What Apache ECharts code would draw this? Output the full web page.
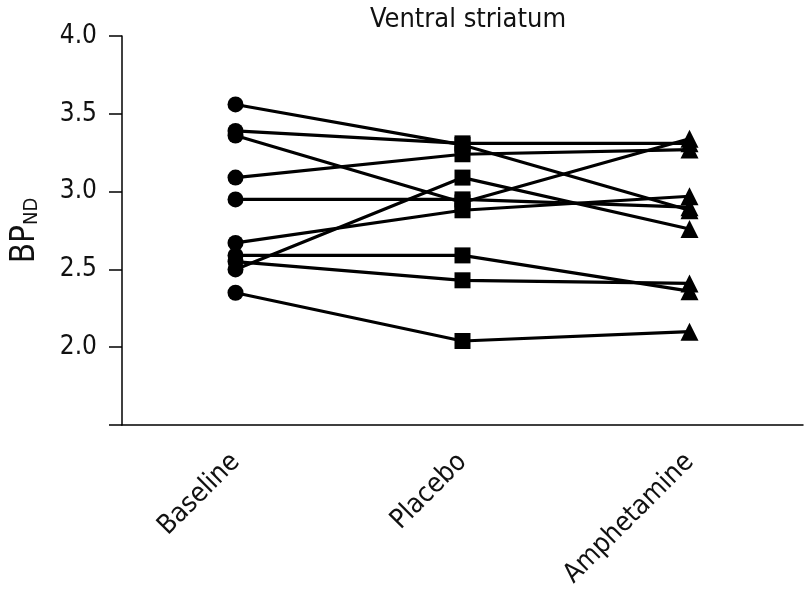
<!DOCTYPE html>
<html><head><meta charset="utf-8">
<script src="https://cdn.jsdelivr.net/npm/echarts@6/dist/echarts.min.js"></script>
<style>html,body{margin:0;padding:0;background:#fff}#c{width:807px;height:595px}</style>
</head><body><div id="c"></div>
<script>
const categories = ['Baseline', 'Placebo', 'Amphetamine'];
const yTicks = [1.5, 2.0, 2.5, 3.0, 3.5, 4.0];
const subject1 = [3.56, 3.30, 2.88];
const subject2 = [3.39, 3.31, 3.31];
const subject3 = [3.36, 2.93, 3.34];
const subject4 = [3.09, 3.24, 3.27];
const subject5 = [2.95, 2.95, 2.90];
const subject6 = [2.67, 2.88, 2.97];
const subject7 = [2.59, 2.59, 2.36];
const subject8 = [2.55, 2.43, 2.41];
const subject9 = [2.50, 3.09, 2.76];
const subject10 = [2.35, 2.04, 2.10];
const subjects = [subject1, subject2, subject3, subject4, subject5, subject6, subject7, subject8, subject9, subject10];

const FONT = "'Liberation Sans Narrow','DejaVu Sans Condensed',sans-serif";
const symbols = ['circle', 'rect', 'triangle'];
const sizes = [16, 16, 18];

const chart = echarts.init(document.getElementById('c'));
chart.setOption({
  animation: false,
  title: {
    text: 'Ventral striatum', left: 463, top: 1, textAlign: 'center',
    textStyle: {fontFamily: FONT, fontSize: 27, fontWeight: 'normal', color: '#111'}
  },
  grid: {left: 122, right: 4, top: 36, bottom: 170},
  xAxis: {
    type: 'category', data: categories, boundaryGap: true,
    axisLine: {lineStyle: {color: '#000', width: 1.5}},
    axisTick: {alignWithLabel: true, length: 12, lineStyle: {color: '#000', width: 1.5}},
    axisLabel: {rotate: 45, margin: 33, fontFamily: FONT, fontSize: 27, color: '#111'}
  },
  yAxis: {
    type: 'value', min: yTicks[0], max: yTicks[yTicks.length - 1], interval: 0.5,
    splitLine: {show: false},
    axisLine: {show: true, lineStyle: {color: '#000', width: 1.5}},
    axisTick: {show: true, length: 13, lineStyle: {color: '#000', width: 1.5}},
    axisLabel: {
      margin: 25, fontFamily: FONT, fontSize: 26, color: '#111',
      formatter: v => (v === yTicks[0] ? '' : v.toFixed(1))
    },
    name: '{a|BP}{b|ND}', nameLocation: 'middle', nameRotate: 90, nameGap: 80,
    nameTextStyle: {
      rich: {
        a: {fontFamily: FONT, fontSize: 33, color: '#111'},
        b: {fontFamily: FONT, fontSize: 20, color: '#111', verticalAlign: 'bottom', padding: [14, 0, 0, 0]}
      }
    }
  },
  series: subjects.map(s => ({
    type: 'line',
    data: s.map((v, i) => ({value: v, symbol: symbols[i], symbolSize: sizes[i]})),
    lineStyle: {color: '#000', width: 3.2},
    itemStyle: {color: '#000'},
    showAllSymbol: true
  }))
});
</script></body></html>
